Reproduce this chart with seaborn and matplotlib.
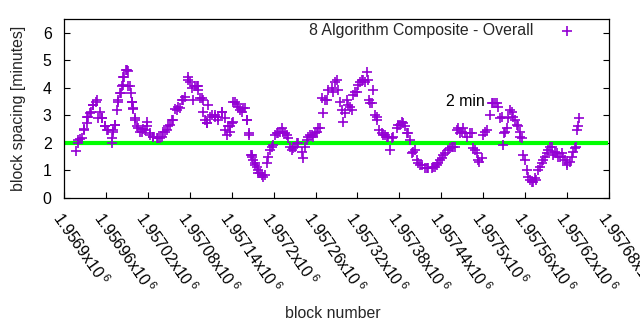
import matplotlib
matplotlib.use("Agg")
import matplotlib.pyplot as plt
import seaborn as sns
import pandas as pd

# Block spacing samples (block height, minutes between blocks)
blocks = [
    1956917, 1956920, 1956923, 1956929, 1956933, 1956937, 1956942, 1956947, 1956949, 1956954,
    1956959, 1956962, 1956969, 1956970, 1956973, 1956976, 1956977, 1956980, 1956983, 1956986,
    1956989, 1956992, 1956994, 1956997, 1956999, 1957002, 1957004, 1957009, 1957013, 1957019,
    1957023, 1957027, 1957035, 1957040, 1957045, 1957049, 1957055, 1957059, 1957063, 1957069,
    1957073, 1957077, 1957083, 1957087, 1957092, 1957095, 1957099, 1957102, 1957105, 1957109,
    1957116, 1957120, 1957126, 1957130, 1957135, 1957138, 1957140, 1957142, 1957148, 1957152,
    1957156, 1957162, 1957165, 1957168, 1957170, 1957176, 1957181, 1957185, 1957188, 1957191,
    1957195, 1957199, 1957202, 1957206, 1957212, 1957216, 1957221, 1957226, 1957231, 1957235,
    1957241, 1957245, 1957249, 1957255, 1957259, 1957264, 1957266, 1957271, 1957274, 1957278,
    1957284, 1957288, 1957292, 1957295, 1957299, 1957302, 1957306, 1957312, 1957314, 1957319,
    1957324, 1957328, 1957334, 1957337, 1957341, 1957345, 1957348, 1957351, 1957355, 1957359,
    1957364, 1957367, 1957371, 1957377, 1957381, 1957385, 1957391, 1957395, 1957400, 1957402,
    1957407, 1957412, 1957417, 1957421, 1957427, 1957431, 1957435, 1957441, 1957445, 1957450,
    1957455, 1957460, 1957462, 1957467, 1957471, 1957477, 1957481, 1957485, 1957491, 1957494,
    1957498, 1957500, 1957505, 1957510, 1957513, 1957517, 1957521, 1957524, 1957528, 1957529,
    1957534, 1957535, 1957541, 1957543, 1957548, 1957553, 1957555, 1957557, 1957560, 1957563,
    1957567, 1957571, 1957574, 1957578, 1957584, 1957588, 1957593, 1957598, 1957603, 1957607,
    1957613, 1957617, 1957620, 1957624, 1957628, 1957633, 1957634, 1957636, 1957637,
    1956920, 1956926, 1956929, 1956933, 1956934, 1956939, 1956942, 1956946, 1956952, 1956954,
    1956959, 1956963, 1956969, 1956970, 1956973, 1956977, 1956982, 1956984, 1956985, 1956990,
    1956992, 1956996, 1956997, 1956999, 1957002, 1957006, 1957012, 1957016, 1957019, 1957023,
    1957027, 1957033, 1957037, 1957042, 1957047, 1957052, 1957056, 1957062, 1957066, 1957070,
    1957077, 1957080, 1957085, 1957090, 1957092, 1957098, 1957099, 1957106, 1957105, 1957112,
    1957116, 1957120, 1957126, 1957130, 1957133, 1957138, 1957142, 1957145, 1957149, 1957155,
    1957159, 1957162, 1957165, 1957169, 1957173, 1957178,
    1957169, 1957174, 1957178, 1957183, 1957192, 1957198, 1957205, 1957209, 1957213, 1957219,
    1957223, 1957228, 1957233, 1957242, 1957248, 1957252, 1957256, 1957262,
    1957269, 1957276, 1957285, 1957291, 1957298, 1957305, 1957309, 1957316, 1957321, 1957326,
    1957331, 1957335, 1957342, 1957338, 1957348, 1957357, 1957362, 1957369, 1957378, 1957384,
    1957388, 1957392, 1957398, 1957405, 1957410, 1957420, 1957428, 1957434, 1957438, 1957442,
    1957452, 1957457, 1957464, 1957470, 1957474, 1957484, 1957488, 1957493, 1957503, 1957514,
    1957520, 1957527, 1957531, 1957538, 1957546, 1957550, 1957553, 1957564, 1957570, 1957576,
    1957581, 1957586, 1957591, 1957596, 1957600, 1957606, 1957610, 1957614, 1957620, 1957627,
    1957631,
]
spacing = [
    1.71, 2.00, 2.15, 2.50, 2.95, 3.10, 3.38, 3.56, 2.90, 2.90,
    2.60, 2.47, 2.00, 2.40, 2.65, 3.20, 3.56, 3.80, 4.05, 4.40,
    4.65, 4.60, 4.05, 3.50, 3.25, 2.90, 2.60, 2.40, 2.50, 2.60,
    2.35, 2.22, 2.18, 2.22, 2.40, 2.60, 2.85, 3.25, 3.30, 3.56,
    3.67, 4.30, 4.00, 4.05, 4.05, 3.64, 3.56, 2.85, 2.72, 2.95,
    3.00, 2.95, 3.13, 2.90, 2.60, 2.40, 2.72, 3.50, 3.40, 3.20,
    3.27, 2.85, 2.35, 1.56, 1.38, 1.13, 0.90, 0.76, 0.84, 1.27,
    1.75, 1.93, 2.30, 2.36, 2.55, 2.36, 2.18, 1.75, 1.85, 2.00,
    1.67, 1.85, 2.20, 2.30, 2.36, 2.55, 2.55, 3.10, 3.56, 3.93,
    4.00, 4.20, 3.93, 3.50, 2.77, 3.10, 3.38, 3.20, 3.75, 3.85,
    4.20, 4.30, 4.58, 3.56, 3.45, 3.00, 2.85, 2.47, 2.36, 2.30,
    2.22, 1.75, 2.22, 2.55, 2.65, 2.72, 2.36, 2.10, 1.67, 1.75,
    1.27, 1.20, 1.09, 1.09, 1.09, 1.13, 1.27, 1.45, 1.63, 1.75,
    1.85, 1.85, 2.47, 2.36, 2.55, 2.22, 2.36, 1.82, 1.63, 1.31,
    1.45, 2.30, 2.47, 3.00, 3.45, 3.45, 3.30, 2.90, 1.93, 2.36,
    2.55, 2.90, 3.13, 2.95, 2.65, 2.40, 2.18, 1.56, 1.38, 1.02,
    0.65, 0.58, 0.73, 1.02, 1.27, 1.49, 1.75, 1.85, 1.67, 1.49,
    1.63, 1.38, 1.20, 1.31, 1.67, 1.85, 2.47, 2.60, 2.90,
    2.10, 2.18, 2.47, 2.72, 2.95, 3.13, 3.38, 3.50, 3.13, 2.90,
    2.60, 2.47, 2.18, 2.47, 2.65, 3.50, 3.80, 4.10, 4.40, 4.65,
    4.05, 3.80, 3.50, 3.27, 2.85, 2.55, 2.40, 2.47, 2.76, 2.30,
    2.22, 2.18, 2.18, 2.40, 2.47, 2.65, 2.85, 3.20, 3.27, 3.56,
    4.40, 4.20, 3.56, 4.05, 3.93, 3.64, 3.13, 3.38, 2.72, 3.00,
    2.95, 2.85, 3.13, 2.47, 2.30, 2.60, 2.76, 3.50, 3.30, 3.13,
    3.27, 2.85, 2.30, 1.56, 1.27, 0.90,
    1.49, 1.20, 1.02, 0.84, 1.49, 1.85, 2.36, 2.40, 2.40, 2.30,
    1.85, 1.82, 2.00, 1.45, 2.10, 2.30, 2.22, 2.40,
    3.64, 3.56, 3.85, 4.30, 3.20, 3.56, 3.30, 3.85, 4.10, 4.30,
    4.20, 4.30, 3.93, 3.45, 2.95, 2.30, 2.22, 2.18, 2.65, 2.76,
    2.60, 2.36, 1.63, 1.38, 1.20, 1.09, 1.13, 1.20, 1.38, 1.56,
    1.82, 1.85, 2.55, 2.40, 2.36, 2.36, 1.75, 1.38, 2.40, 3.45,
    3.45, 2.95, 2.40, 3.20, 2.85, 2.60, 2.22, 0.76, 0.58, 0.65,
    1.13, 1.38, 1.63, 1.85, 1.56, 1.63, 1.49, 1.49, 1.27, 1.49,
    1.82,
]
series_label = "8 Algorithm Composite - Overall"
target_minutes = 2.0
target_label = "2 min"
target_label_pos = (1957447, 3.5)
x_ticks = list(range(1956900, 1957681, 60))
x_tick_labels = [r"%gx10$^{\;6}$" % (t / 1e6) for t in x_ticks]
y_ticks = [0, 1, 2, 3, 4, 5, 6]

FS = 11.4

df = pd.DataFrame({"block": blocks, "spacing": spacing})

sns.set_theme(style="white")
plt.rcParams["font.family"] = ["Liberation Sans", "DejaVu Sans"]
plt.rcParams["mathtext.fontset"] = "custom"
plt.rcParams["mathtext.rm"] = "Liberation Sans"
plt.rcParams["mathtext.it"] = "Liberation Sans"

fig = plt.figure(figsize=(6.4, 3.3), dpi=100)
ax = fig.add_axes([0.1, 0.4, 0.8516, 0.5424])

sns.scatterplot(data=df, x="block", y="spacing", marker="+", s=50,
                color="#9400D3", linewidth=1.2, ax=ax, label=series_label,
                zorder=3)
ax.plot([1956902, 1957678], [target_minutes, target_minutes],
        color="#00FF00", lw=3.0, solid_capstyle="butt", zorder=2)

ax.text(target_label_pos[0], target_label_pos[1], target_label,
        ha="left", va="center", fontsize=FS, color="black")

ax.set_xlim(1956900, 1957680)
ax.set_ylim(0, 6.5)
ax.set_xticks(x_ticks)
ax.set_xticklabels(x_tick_labels, rotation=-55, ha="left", va="top",
                   rotation_mode="anchor", fontsize=FS)
ax.set_yticks(y_ticks)
ax.set_yticklabels([str(v) for v in y_ticks], fontsize=FS)
ax.tick_params(axis="x", direction="in", length=4, width=0.8,
               bottom=True, top=False, pad=8, colors="black")
ax.tick_params(axis="y", direction="in", length=4, width=0.8,
               left=True, right=True, pad=9, colors="black")
for sp in ax.spines.values():
    sp.set_visible(True)
    sp.set_color("black")
    sp.set_linewidth(0.9)

ax.set_xlabel("block number", fontsize=FS)
ax.set_ylabel("block spacing [minutes]", fontsize=FS, labelpad=12)
ax.xaxis.set_label_coords(0.494, -0.605)

leg = ax.legend(loc="upper right", bbox_to_anchor=(0.9725, 0.975),
                frameon=False, markerfirst=False, fontsize=FS,
                handlelength=3.4, handletextpad=0.45,
                borderaxespad=0.0, borderpad=0.0)
for h in leg.legend_handles:
    h.set_sizes([50])

fig.savefig("out.png", dpi=100)
